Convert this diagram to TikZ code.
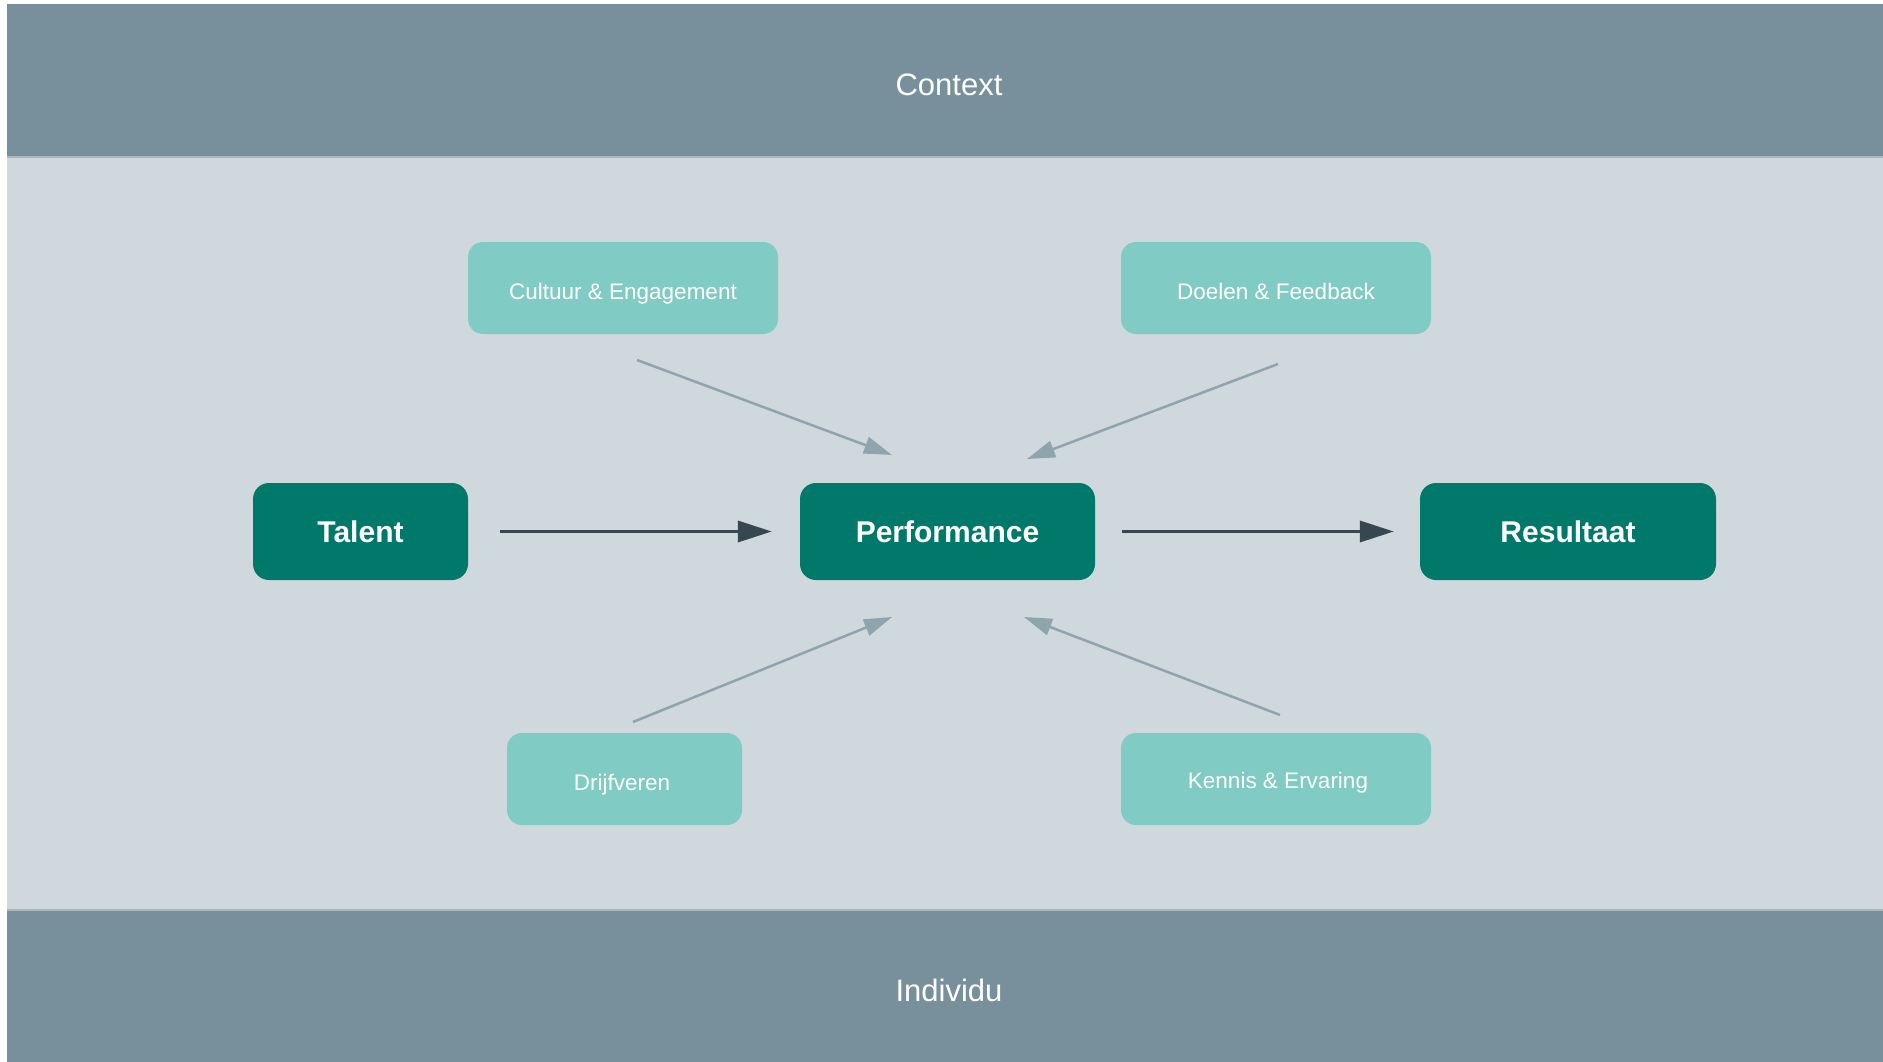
\documentclass[tikz,border=0pt]{standalone}
\usepackage{fontspec}
\setmainfont{Liberation Sans}
\usetikzlibrary{arrows.meta}
\definecolor{band}{HTML}{78909C}
\definecolor{bandline}{HTML}{A9B8BF}
\definecolor{mid}{HTML}{CFD8DC}
\definecolor{darkteal}{HTML}{00796B}
\definecolor{lightteal}{HTML}{80CBC4}
\definecolor{thinarrow}{HTML}{90A4AE}
\definecolor{darkarrow}{HTML}{37474F}
\tikzset{
  mainbox/.style={fill=darkteal, rounded corners=16pt, minimum width=#1, minimum height=97pt, inner sep=0pt,
    text=white, font=\fontsize{30}{36}\selectfont\bfseries},
  subbox/.style={fill=lightteal, rounded corners=15pt, minimum width=#1, minimum height=92pt, inner sep=0pt,
    text=white, font=\fontsize{22.5}{27}\selectfont},
  subtext/.style={text=white, font=\fontsize{22.5}{27}\selectfont, inner sep=0pt, text height=16pt, text depth=0pt},
  bandtext/.style={text=white, font=\fontsize{31}{37}\selectfont},
  mainarrow/.style={draw=darkarrow, line width=3.5pt, -{Triangle[length=34pt,width=21pt]}},
  thinarr/.style={draw=thinarrow, line width=2.5pt, -{Triangle[length=28pt,width=17pt]}},
}
\begin{document}
\begin{tikzpicture}[x=1pt,y=-1pt]
\useasboundingbox[fill=white] (0,0) rectangle (1883,1062);
% bands
\fill[band] (7,4) rectangle (1883,157);
\fill[mid] (7,157) rectangle (1883,910);
\fill[band] (7,910) rectangle (1883,1062);
\draw[bandline, line width=2pt] (7,157) -- (1883,157);
\draw[bandline, line width=2pt] (7,910) -- (1883,910);
\node[bandtext] (context) at (949,85) {Context};
\node[bandtext] (individu) at (949,990) {Individu};
% main nodes
\node[mainbox=215pt] (talent) at (360.5,531.5) {Talent};
\node[mainbox=295pt] (perf) at (947.5,531.5) {Performance};
\node[mainbox=296pt] (result) at (1568,531.5) {Resultaat};
% sub nodes
\node[subbox=310pt] (cult) at (623,288) {};
\node[subtext] (cultT) at (623,291) {Cultuur \& Engagement};
\node[subbox=310pt] (doel) at (1276,288) {};
\node[subtext] (doelT) at (1276,291) {Doelen \& Feedback};
\node[subbox=235pt] (drijf) at (624.5,779) {};
\node[subtext] (drijfT) at (622,782) {Drijfveren};
\node[subbox=310pt] (kennis) at (1276,779) {};
\node[subtext] (kennisT) at (1278,780) {Kennis \& Ervaring};
% main arrows
\draw[mainarrow, shorten <=32pt, shorten >=28pt] (talent.east) -- (perf.west);
\draw[mainarrow, shorten <=27pt, shorten >=26pt] (perf.east) -- (result.west);
% thin arrow end points
\coordinate (cultS) at (637,360);
\coordinate (cultE) at (892,455);
\coordinate (doelS) at (1278,364);
\coordinate (doelE) at (1027,459);
\coordinate (drijfS) at (633,722);
\coordinate (drijfE) at (892,617);
\coordinate (kenS) at (1280,715);
\coordinate (kenE) at (1024,617);
\draw[thinarr] (cultS) -- (cultE);
\draw[thinarr] (doelS) -- (doelE);
\draw[thinarr] (drijfS) -- (drijfE);
\draw[thinarr] (kenS) -- (kenE);
\end{tikzpicture}
\end{document}
